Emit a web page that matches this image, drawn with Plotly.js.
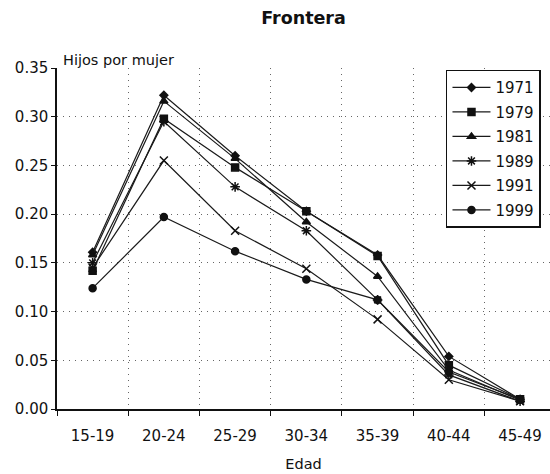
<!DOCTYPE html>
<html><head><meta charset="utf-8">
<script src="https://cdn.plot.ly/plotly-3.0.1.min.js"></script>
<style>body{margin:0;background:#fff}</style>
</head><body><div id="chart" style="width:550px;height:474px"></div>
<script>
const ageGroups = ["15-19","20-24","25-29","30-34","35-39","40-44","45-49"];
const years = ["1971","1979","1981","1989","1991","1999"];
const v1971 = [0.161, 0.322, 0.260, 0.203, 0.158, 0.054, 0.010];
const v1979 = [0.142, 0.298, 0.248, 0.203, 0.157, 0.045, 0.010];
const v1981 = [0.158, 0.316, 0.257, 0.192, 0.136, 0.040, 0.009];
const v1989 = [0.150, 0.295, 0.228, 0.183, 0.112, 0.035, 0.008];
const v1991 = [0.145, 0.255, 0.183, 0.144, 0.092, 0.030, 0.008];
const v1999 = [0.124, 0.197, 0.162, 0.133, 0.112, 0.038, 0.010];
const seriesValues = [v1971, v1979, v1981, v1989, v1991, v1999];
const symbols = ["diamond","square","triangle-up","asterisk-open","x-thin-open","circle"];
const sizes = [6, 7, 7, 8, 8, 7];

const traces = years.map((y, i) => ({
  type: "scatter", mode: "lines+markers",
  x: ageGroups, y: seriesValues[i], name: y,
  legendgroup: y,
  line: {color: "#1a1a1a", width: 1.2},
  marker: {symbol: symbols[i], size: sizes[i], color: "#111", line: {color: "#111", width: 1.5}}
}));

const FONT = "DejaVu Sans, Arial, sans-serif";
const layout = {
  width: 550, height: 474,
  margin: {l: 57, r: 0, t: 68, b: 65},
  paper_bgcolor: "#fff", plot_bgcolor: "#fff",
  font: {family: FONT, color: "#111", size: 15},
  title: {text: "<b>Frontera</b>", x: 0.5, xref: "paper", y: 0.962, yanchor: "middle", font: {size: 17.5, color: "#111"}},
  xaxis: {
    type: "category", range: [-0.5, 6.42],
    tickson: "boundaries", ticks: "outside", ticklen: 5, tickcolor: "#111",
    showline: true, linecolor: "#111", linewidth: 1.5,
    showgrid: true, gridcolor: "#666", gridwidth: 1, griddash: "1px,5px",
    ticklabelstandoff: 12,
    title: {text: "Edad", font: {size: 14.5}, standoff: 15},
    tickfont: {size: 15}
  },
  yaxis: {
    range: [0, 0.35], dtick: 0.05, tickformat: ".2f",
    ticks: "outside", ticklen: 4, tickcolor: "#111",
    showline: true, linecolor: "#111", linewidth: 1.5,
    showgrid: true, gridcolor: "#666", gridwidth: 1, griddash: "1px,5px",
    zeroline: false, tickfont: {size: 15}
  },
  legend: {
    x: 0.789, y: 0.995, xanchor: "left", yanchor: "top",
    bordercolor: "#111", borderwidth: 1.5, bgcolor: "#fff",
    font: {size: 15}, traceorder: "grouped", tracegroupgap: 2, itemwidth: 38,
    entrywidth: 112
  },
  annotations: [{
    text: "Hijos por mujer", xref: "paper", yref: "paper", x: 0.008, y: 0.995,
    xanchor: "left", yanchor: "bottom", showarrow: false, font: {size: 14.5}
  }],
  showlegend: true
};
Plotly.newPlot("chart", traces, layout, {displayModeBar: false});
</script></body></html>
